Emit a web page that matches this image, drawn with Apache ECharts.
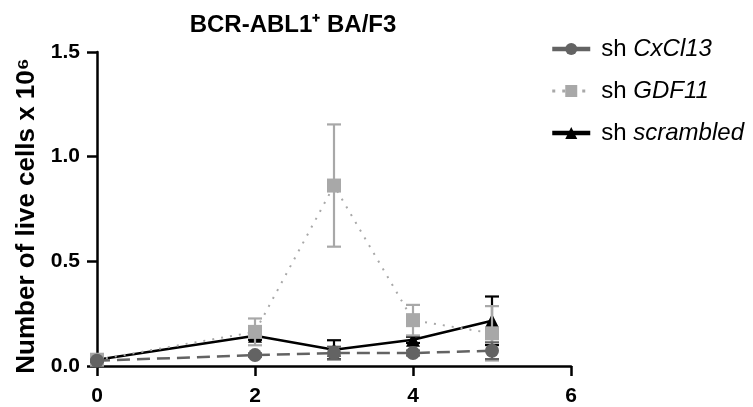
<!DOCTYPE html>
<html><head><meta charset="utf-8">
<script src="https://cdn.jsdelivr.net/npm/echarts@6/dist/echarts.min.js"></script>
<style>html,body{margin:0;padding:0;background:#fff}#c{width:753px;height:407px}</style>
</head><body><div id="c"></div>
<script>
const days = [0, 2, 3, 4, 5];
const xTicks = [0, 2, 4, 6];
const yTicks = [0.0, 0.5, 1.0, 1.5];
const cxcl13Mean = [0.025, 0.052, 0.062, 0.062, 0.073];
const cxcl13Err  = [0.005, 0.008, 0.030, 0.012, 0.040];
const gdf11Mean  = [0.030, 0.163, 0.862, 0.219, 0.156];
const gdf11Err   = [0.005, 0.064, 0.292, 0.073, 0.130];
const scrMean    = [0.030, 0.145, 0.078, 0.125, 0.216];
const scrErr     = [0.005, 0.020, 0.045, 0.015, 0.116];

const names = ['CxCl13', 'GDF11', 'scrambled'];
const colors = ['#636363', '#a8a8a8', '#000000'];

function pts(m){ return days.map((d,i)=>[d, m[i]]); }
function errs(m,e){ return days.map((d,i)=>[d, m[i]-e[i], m[i]+e[i]]); }
function errSeries(m,e,color,z){
  return {
    type:'custom', z:z, silent:true,
    data: errs(m,e),
    encode:{x:0,y:[1,2]},
    renderItem:function(params, api){
      const x = api.value(0);
      const lo = api.coord([x, api.value(1)]);
      const hi = api.coord([x, api.value(2)]);
      const w = 7;
      const st = {stroke:color, lineWidth:2.2, fill:null};
      return {type:'group', children:[
        {type:'line', shape:{x1:lo[0],y1:lo[1],x2:hi[0],y2:hi[1]}, style:st},
        {type:'line', shape:{x1:lo[0]-w,y1:lo[1],x2:lo[0]+w,y2:lo[1]}, style:st},
        {type:'line', shape:{x1:hi[0]-w,y1:hi[1],x2:hi[0]+w,y2:hi[1]}, style:st}
      ]};
    }
  };
}

const chart = echarts.init(document.getElementById('c'));
const font = 'Liberation Sans, Arial, Helvetica, sans-serif';
chart.setOption({
  animation:false,
  title:{text:'BCR-ABL1\u207A BA/F3', left:288, top:8, textAlign:'center',
    textStyle:{fontFamily:font, fontWeight:'bold', fontSize:24, color:'#000'}},
  legend:{
    data:[
      {name:names[0], lineStyle:{width:4.5, type:'solid'}},
      {name:names[1], lineStyle:{width:3, type:[3,7]}},
      {name:names[2], lineStyle:{width:4.5, type:'solid'}}
    ],
    orient:'vertical', left:545, top:32, itemWidth:38, itemHeight:15, itemGap:18,
    formatter:function(n){ return '{a|sh }{b|'+n+'}'; },
    textStyle:{fontFamily:font, fontSize:24, color:'#000', padding:[0,0,0,6],
      rich:{a:{fontFamily:font,fontSize:24,color:'#000'}, b:{fontFamily:font,fontSize:24,fontStyle:'italic',color:'#000'}}}
  },
  grid:{left:97, top:52, right:182, bottom:40},
  xAxis:{type:'value', min:xTicks[0], max:xTicks[xTicks.length-1], interval:2,
    axisLine:{lineStyle:{color:'#000', width:2.5}},
    axisTick:{length:10, lineStyle:{color:'#000', width:2.5}},
    axisLabel:{fontFamily:font, fontWeight:'bold', fontSize:21, color:'#000', margin:20},
    splitLine:{show:false}},
  yAxis:{type:'value', min:yTicks[0], max:yTicks[yTicks.length-1], interval:0.5,
    name:'Number of live cells x 10\u2076', nameLocation:'middle', nameGap:48, nameRotate:90,
    nameTextStyle:{fontFamily:font, fontWeight:'bold', fontSize:26, color:'#000', padding:[0,14,0,0]},
    axisLine:{show:true, lineStyle:{color:'#000', width:2.5}},
    axisTick:{show:true, length:10, lineStyle:{color:'#000', width:2.5}},
    axisLabel:{fontFamily:font, fontWeight:'bold', fontSize:21, color:'#000', margin:17,
      formatter:function(v){return v.toFixed(1);}},
    splitLine:{show:false}},
  series:[
    errSeries(scrMean, scrErr, colors[2], 2),
    {name:'scrambled', type:'line', z:3, data:pts(scrMean), symbol:'triangle', symbolSize:14,
      itemStyle:{color:colors[2]}, lineStyle:{color:colors[2], width:2.5, type:'solid'}},
    errSeries(gdf11Mean, gdf11Err, colors[1], 4),
    {name:'GDF11', type:'line', z:5, data:pts(gdf11Mean), symbol:'rect', symbolSize:14,
      itemStyle:{color:colors[1]}, lineStyle:{color:colors[1], width:2, type:[2,7]}},
    errSeries(cxcl13Mean, cxcl13Err, colors[0], 6),
    {name:'CxCl13', type:'line', z:7, data:pts(cxcl13Mean), symbol:'circle', symbolSize:14,
      itemStyle:{color:colors[0]}, lineStyle:{color:colors[0], width:2.5, type:[13,7]}}
  ]
});
</script></body></html>
